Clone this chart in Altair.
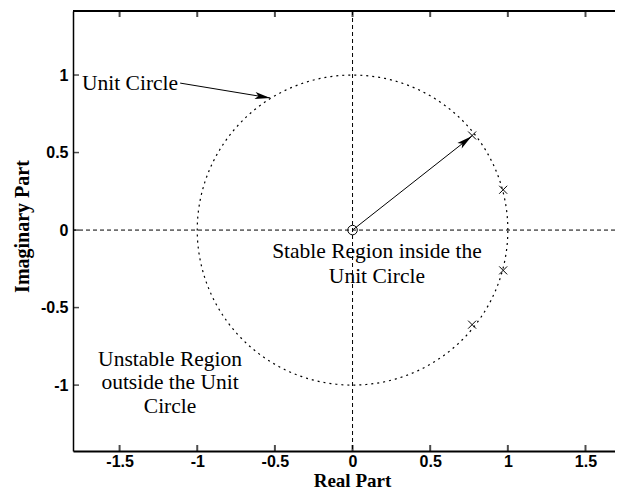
import math
import numpy as np
import pandas as pd
import altair as alt

# ---- data ----
x_ticks = [-1.5, -1, -0.5, 0, 0.5, 1, 1.5]
y_ticks = [-1, -0.5, 0, 0.5, 1]
x_domain = [-1.8, 1.69]
y_domain = [-1.425, 1.413]

zero_re = [0.0]
zero_im = [0.0]
pole_re = [0.77, 0.97, 0.97, 0.77]
pole_im = [0.61, 0.26, -0.26, -0.61]

arrow_start_re = [0.0, -1.11]
arrow_start_im = [0.0, 0.948]
arrow_end_re = [0.767, -0.53]
arrow_end_im = [0.605, 0.852]

label_text = ["Unit Circle", "Stable Region inside the", "Unit Circle",
              "Unstable Region", "outside the Unit", "Circle"]
label_re = [-1.742, 0.157, 0.157, -1.175, -1.175, -1.175]
label_im = [0.942, -0.142, -0.303, -0.839, -0.987, -1.142]
label_align = ["left", "center", "center", "center", "center", "center"]

# unit circle (the reference curve |z| = 1)
theta_deg = np.arange(0, 361, 1)

W, H = 542, 440
sx = W / (x_domain[1] - x_domain[0])
sy = H / (y_domain[1] - y_domain[0])

circle_df = pd.DataFrame({
    "re": np.cos(np.radians(theta_deg)),
    "im": np.sin(np.radians(theta_deg)),
    "k": theta_deg,
})
zero_df = pd.DataFrame({"re": zero_re, "im": zero_im})
pole_df = pd.DataFrame({"re": pole_re, "im": pole_im})

seg_rows = []
head_rows = []
for i in range(len(arrow_start_re)):
    seg_rows.append({"re": arrow_start_re[i], "im": arrow_start_im[i], "a": i, "k": 0})
    seg_rows.append({"re": arrow_end_re[i], "im": arrow_end_im[i], "a": i, "k": 1})
    dx = (arrow_end_re[i] - arrow_start_re[i]) * sx
    dy = (arrow_end_im[i] - arrow_start_im[i]) * sy
    head_rows.append({"re": arrow_end_re[i], "im": arrow_end_im[i],
                      "ang": (math.degrees(math.atan2(dx, dy)) + 360) % 360})
seg_df = pd.DataFrame(seg_rows)
head_df = pd.DataFrame(head_rows)

label_df = pd.DataFrame({"re": label_re, "im": label_im, "t": label_text, "al": label_align})

xtick_df = pd.DataFrame({"re": x_ticks * 2,
                         "im": [y_domain[1]] * len(x_ticks) + [y_domain[0]] * len(x_ticks)})
ytick_df = pd.DataFrame({"re": [x_domain[0]] * len(y_ticks), "im": y_ticks})
vline_df = pd.DataFrame({"re": [0.0]})
hline_df = pd.DataFrame({"im": [0.0]})
top_df = pd.DataFrame({"im": [y_domain[1]]})

# ---- encodings ----
xs = alt.Scale(domain=x_domain, nice=False, zero=False, padding=0)
ys = alt.Scale(domain=y_domain, nice=False, zero=False, padding=0)
x_axis = alt.Axis(values=x_ticks, ticks=False, grid=False, domainColor="black",
                  domainWidth=2, labelExpr="'' + datum.value", labelPadding=2,
                  labelFont="Liberation Sans", labelFontWeight="bold", labelFontSize=16,
                  labelColor="black", title="Real Part", titleFont="Liberation Serif",
                  titleFontWeight="bold", titleFontSize=19, titleColor="black",
                  titleX=279, titleY=35, titleBaseline="alphabetic", titleAnchor="middle")
y_axis = alt.Axis(values=y_ticks, ticks=False, grid=False, domainColor="black",
                  domainWidth=1.5, labelExpr="'' + datum.value", labelPadding=5,
                  labelFont="Liberation Sans", labelFontWeight="bold", labelFontSize=16,
                  labelColor="black", title="Imaginary Part", titleFont="Liberation Serif",
                  titleFontWeight="bold", titleFontSize=20, titleColor="black",
                  titleX=-51, titleY=215, titleBaseline="middle", titleAngle=-90,
                  titleAnchor="middle")
X = alt.X("re:Q", scale=xs, axis=x_axis)
Y = alt.Y("im:Q", scale=ys, axis=y_axis)

vline = alt.Chart(vline_df).mark_rule(color="black", strokeWidth=1, strokeDash=[4, 3]).encode(x=X)
hline = alt.Chart(hline_df).mark_rule(color="black", strokeWidth=1, strokeDash=[4, 3]).encode(y=Y)
top = alt.Chart(top_df).mark_rule(color="black", strokeWidth=2).encode(y=Y)

circle = alt.Chart(circle_df).mark_line(color="black", strokeWidth=1.2,
                                        strokeDash=[2, 4]).encode(x=X, y=Y, order="k:Q")

segs = alt.Chart(seg_df).mark_line(color="black", strokeWidth=1).encode(
    x=X, y=Y, detail="a:N", order="k:Q")
heads = alt.Chart(head_df).mark_point(
    shape="M0,0L-0.5,2.2L0,1.7L0.5,2.2Z", filled=True, color="black",
    opacity=1, size=196).encode(x=X, y=Y, angle=alt.Angle("ang:Q", scale=None))

zero = alt.Chart(zero_df).mark_point(shape="circle", filled=False, color="black",
                                     strokeWidth=1, size=90, opacity=1).encode(x=X, y=Y)
poles = alt.Chart(pole_df).mark_point(shape="M-1,-1L1,1M1,-1L-1,1", filled=False,
                                      color="black", strokeWidth=1, size=64,
                                      opacity=1).encode(x=X, y=Y)

xticks = alt.Chart(xtick_df).mark_tick(orient="vertical", size=12, thickness=2,
                                       color="black", clip=True).encode(x=X, y=Y)
yticks = alt.Chart(ytick_df).mark_tick(orient="horizontal", size=12, thickness=1.5,
                                       color="black", clip=True).encode(x=X, y=Y)

labels_left = alt.Chart(label_df).transform_filter("datum.al == 'left'").mark_text(
    font="Liberation Serif", fontSize=21.5, color="black", baseline="middle",
    align="left").encode(x=X, y=Y, text="t:N")
labels_center = alt.Chart(label_df).transform_filter("datum.al == 'center'").mark_text(
    font="Liberation Serif", fontSize=21.5, color="black", baseline="middle",
    align="center").encode(x=X, y=Y, text="t:N")

chart = alt.layer(vline, hline, circle, segs, heads, zero, poles, xticks, yticks,
                  top, labels_left, labels_center).properties(
    width=W, height=H,
    autosize=alt.AutoSizeParams(type="none"),
    padding={"left": 65, "top": 3, "right": 0, "bottom": 41},
    background="white",
).configure_view(stroke=None)

chart.save("out.html", embed_options={"renderer": "svg", "actions": False})
